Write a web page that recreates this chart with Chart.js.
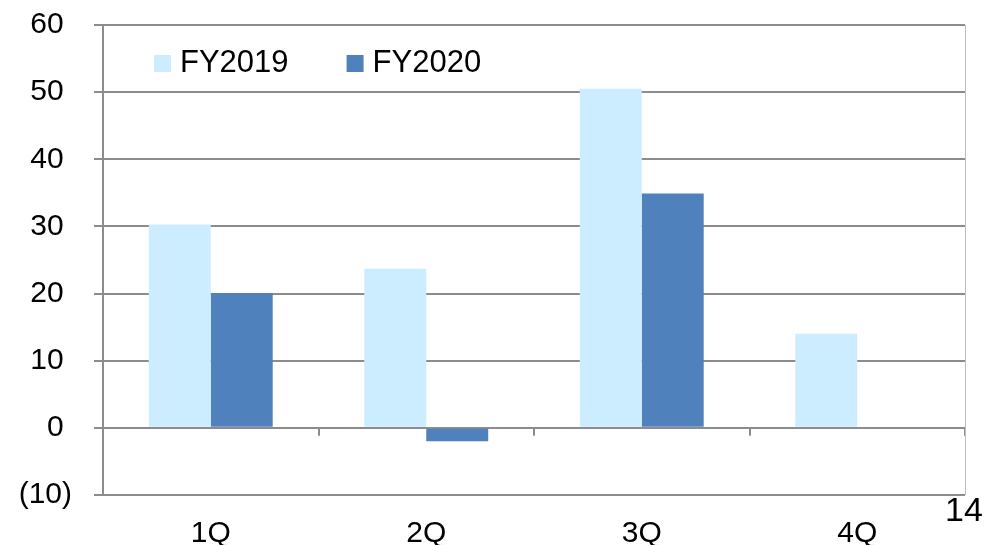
<!DOCTYPE html>
<html>
<head>
<meta charset="utf-8">
<script src="https://cdn.jsdelivr.net/npm/chart.js@4"></script>
<style>
  html, body { margin: 0; padding: 0; background: #fff; }
  #wrap { position: relative; width: 990px; height: 545px; }
  #page { position: absolute; left: 945px; top: 490px; font: 34px "Liberation Sans", Arial, sans-serif; color: #000; }
</style>
</head>
<body>
<div id="wrap">
  <canvas id="chart" width="990" height="545"></canvas>
  <div id="page">14</div>
</div>
<script>
const QUARTERS = ['1Q', '2Q', '3Q', '4Q'];
const FY2019 = [30.3, 23.7, 50.5, 14.0];
const FY2020 = [20.1, -2.0, 34.9, null];
const Y_MIN = -10;
const Y_MAX = 60;
const Y_STEP = 10;

const FONT = '"Liberation Sans", Arial, sans-serif';
const GRID = '#8c8c8c';

// zero-line tick marks, right border and the in-plot legend
const extras = {
  id: 'extras',
  afterDraw(chart) {
    const { ctx, chartArea, scales } = chart;
    const x = scales.x;
    const y0 = scales.y.getPixelForValue(0);
    ctx.save();
    ctx.strokeStyle = GRID;
    ctx.lineWidth = 2;
    for (let i = 0; i < QUARTERS.length; i++) {
      const px = Math.round(x.getPixelForValue(i + 0.5));
      ctx.beginPath();
      ctx.moveTo(px, y0);
      ctx.lineTo(px, y0 + 8);
      ctx.stroke();
    }
    ctx.strokeStyle = '#bfbfbf';
    ctx.lineWidth = 1;
    ctx.beginPath();
    ctx.moveTo(chartArea.right + 0.5, chartArea.top);
    ctx.lineTo(chartArea.right + 0.5, chartArea.bottom);
    ctx.stroke();

    ctx.font = '31px ' + FONT;
    ctx.textBaseline = 'middle';
    let lx = chartArea.left + 51;
    const ly = chartArea.top + 38;
    chart.data.datasets.forEach((ds) => {
      ctx.fillStyle = ds.backgroundColor;
      ctx.fillRect(lx, ly - 8, 17, 17);
      ctx.fillStyle = '#000';
      ctx.fillText(ds.label, lx + 26, ly);
      lx += 26 + ctx.measureText(ds.label).width + 58;
    });
    ctx.restore();
  },
};

const data = {
  labels: QUARTERS,
  datasets: [
    { label: 'FY2019', data: FY2019, backgroundColor: '#CCECFF' },
    { label: 'FY2020', data: FY2020, backgroundColor: '#4F81BD' },
  ],
};

const config = {
  type: 'bar',
  data: data,
  options: {
    responsive: false,
    animation: false,
    layout: { padding: { top: 25, right: 25, left: 0, bottom: 0 } },
    datasets: {
      bar: { categoryPercentage: 0.575, barPercentage: 1 },
    },
    scales: {
      x: {
        grid: { display: false, drawTicks: false },
        border: { display: false },
        ticks: { font: { size: 30, family: FONT }, color: '#000', padding: 21 },
        afterFit: (s) => { s.height = 50; },
      },
      y: {
        min: Y_MIN,
        max: Y_MAX,
        grid: { color: GRID, lineWidth: 2, tickLength: 9 },
        border: { display: true, color: GRID, width: 2 },
        ticks: {
          stepSize: Y_STEP,
          font: { size: 30, family: FONT },
          color: '#000',
          padding: 22,
          callback: (v) => (v < 0 ? '(' + Math.abs(v) + ')' : v + ' '),
        },
        afterFit: (s) => {
          s.width = 103;
          s.paddingTop = 0;
          s.paddingBottom = 0;
        },
      },
    },
    plugins: {
      legend: { display: false },
      tooltip: { enabled: false },
    },
  },
  plugins: [extras],
};

new Chart(document.getElementById('chart'), config);
</script>
</body>
</html>
